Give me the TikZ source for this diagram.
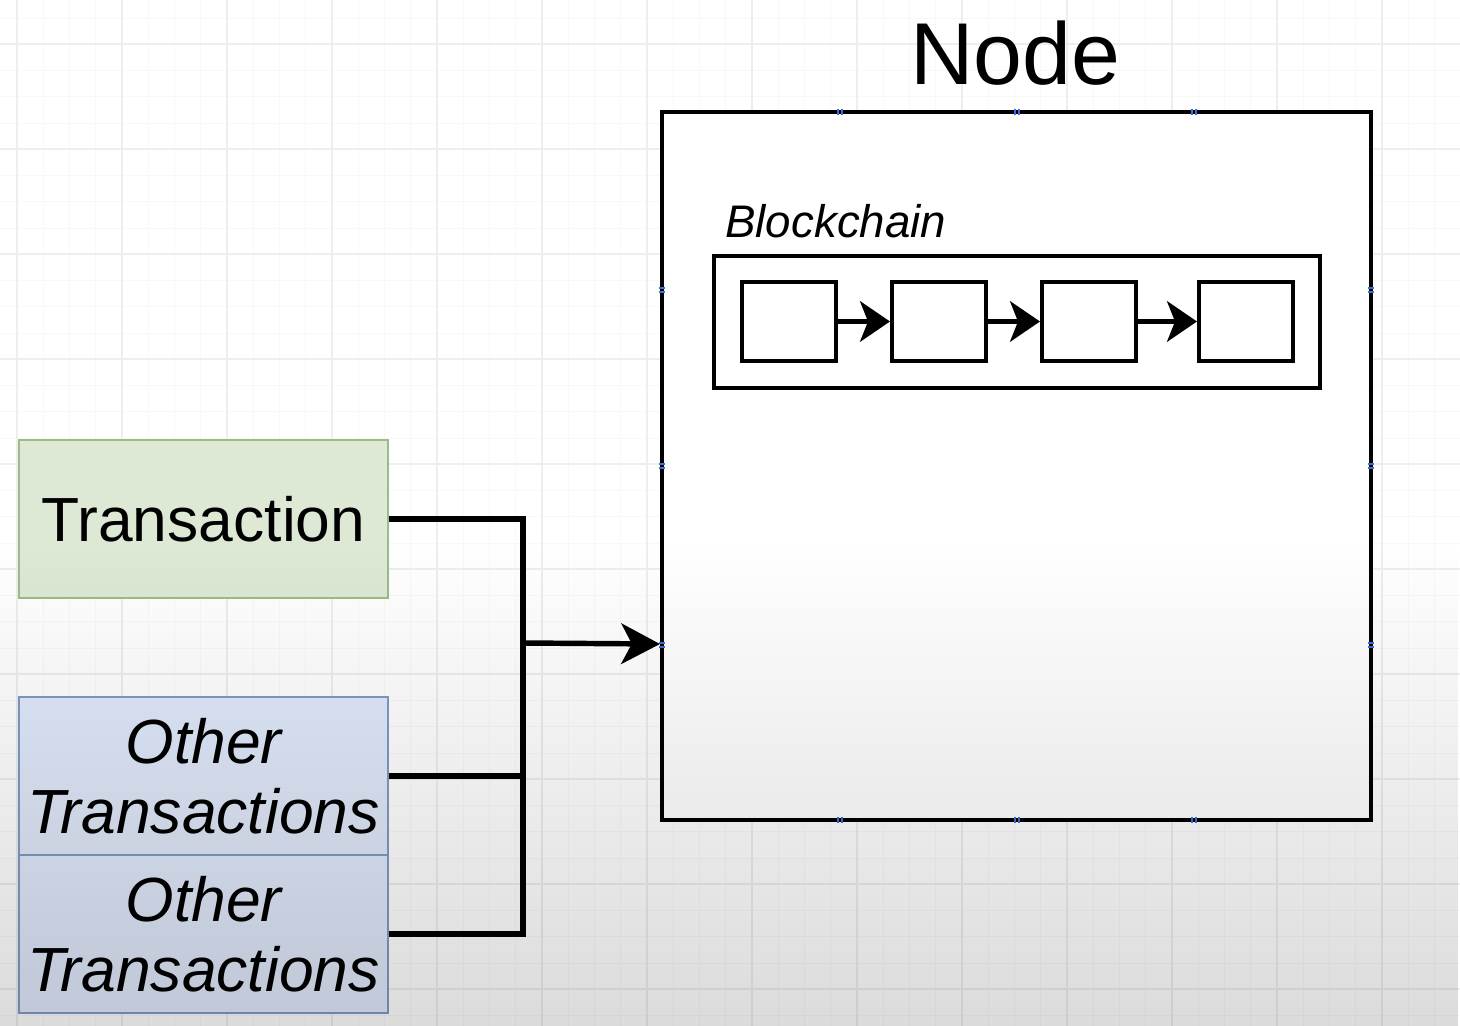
\documentclass[tikz,border=0pt]{standalone}
\usepackage{fontspec}
\setmainfont{Liberation Sans}
\usetikzlibrary{calc,positioning,arrows.meta,fadings}
\definecolor{txgreen}{HTML}{DDE9D5}
\definecolor{txgreenline}{HTML}{9DBB85}
\definecolor{txblue}{HTML}{E0E9FA}
\definecolor{txblueline}{HTML}{7E9BC6}
\definecolor{gridmajor}{HTML}{EEEEEE}
\definecolor{gridminor}{HTML}{F8F8F8}
\definecolor{pin}{HTML}{3F6FD0}
\tikzfading[name=dimdown, top color=transparent!100, bottom color=transparent!0]
\tikzset{
  nodebox/.style={draw=black, fill=white, line width=2.4pt, minimum width=14.18cm, minimum height=14.16cm, inner sep=0pt},
  chainbox/.style={draw=black, line width=2.3pt, minimum width=12.12cm, minimum height=2.64cm, inner sep=0pt},
  block/.style={draw=black, line width=2.3pt, minimum width=1.88cm, minimum height=1.58cm, inner sep=0pt},
  txbox/.style={draw=txgreenline, fill=txgreen, line width=1.6pt, minimum width=7.38cm, minimum height=3.16cm, inner sep=0pt,
    font=\fontsize{35.5}{40}\selectfont},
  otherbox/.style={draw=txblueline, fill=txblue, line width=1.6pt, minimum width=7.38cm, minimum height=3.16cm, inner sep=0pt,
    align=center, font=\fontsize{35.5}{40}\selectfont\itshape},
  title/.style={inner sep=0pt, font=\fontsize{50}{56}\selectfont},
  chainlab/.style={inner sep=0pt, font=\fontsize{26}{30}\selectfont\itshape},
  wire/.style={draw=black, line width=3.1pt},
  link/.style={draw=black, line width=2.8pt, -{Stealth[length=17pt, width=23pt, inset=4.5pt]}},
  feed/.style={wire, -{Stealth[length=22pt, width=23pt, inset=6pt]}},
  pinmark/.style={draw=pin, line width=0.6pt},
}
\begin{document}
\begin{tikzpicture}[x=0.02cm, y=-0.02cm]
  \useasboundingbox (0,0) rectangle (1460,1026);

  % canvas and grid
  \fill[white] (0,0) rectangle (1460,1026);
  \foreach \x in {17,43.25,...,1460} \draw[gridminor, line width=0.4pt] (\x,0) -- (\x,1026);
  \foreach \y in {18,44.25,...,1026} \draw[gridminor, line width=0.4pt] (0,\y) -- (1460,\y);
  \foreach \x in {17,122,...,1460} \draw[gridmajor, line width=0.6pt] (\x,0) -- (\x,1026);
  \foreach \y in {44,149,...,1026} \draw[gridmajor, line width=0.6pt] (0,\y) -- (1460,\y);

  % the node
  \node[nodebox] (node) at (1016.5,466) {};
  \node[title, anchor=base] (nodetitle) at (1015,85) {Node};
  \foreach \x in {840,1017,1194} {
    \draw[pinmark] (\x-2,109) -- (\x-2,115) (\x+2,109) -- (\x+2,115);
    \draw[pinmark] (\x-2,817) -- (\x-2,823) (\x+2,817) -- (\x+2,823);
  }
  \foreach \y in {290,466,645} {
    \draw[pinmark] (659,\y-2) -- (665,\y-2) (659,\y+2) -- (665,\y+2);
    \draw[pinmark] (1368,\y-2) -- (1374,\y-2) (1368,\y+2) -- (1374,\y+2);
  }

  % blockchain
  \node[chainlab, anchor=base west] (chainname) at (725,238) {Blockchain};
  \node[chainbox] (chain) at (1017,322) {};
  \node[block] (b1) at (789,321.5) {};
  \node[block] (b2) at (939,321.5) {};
  \node[block] (b3) at (1089,321.5) {};
  \node[block] (b4) at (1246,321.5) {};
  \draw[link] (b1) -- (b2);
  \draw[link] (b2) -- (b3);
  \draw[link] (b3) -- (b4);

  % transactions
  \node[txbox] (txn) at (203.5,519) {Transaction};
  \node[otherbox] (oth1) at (203.5,776) {Other\\Transactions};
  \node[otherbox] (oth2) at (203.5,934) {Other\\Transactions};

  \coordinate (J) at (523,643);
  \coordinate (entry) at ($(node.north west)!0.75!(node.south west)$);
  \draw[wire] (txn.east) -| (J) |- (oth2.east);
  \draw[wire] (oth1.east) -- (oth1.east -| J);
  \draw[feed] (J) -- (entry);

  % dim towards the bottom
  \fill[black, opacity=0.14, path fading=dimdown] (0,540) rectangle (1460,1026);
\end{tikzpicture}
\end{document}
